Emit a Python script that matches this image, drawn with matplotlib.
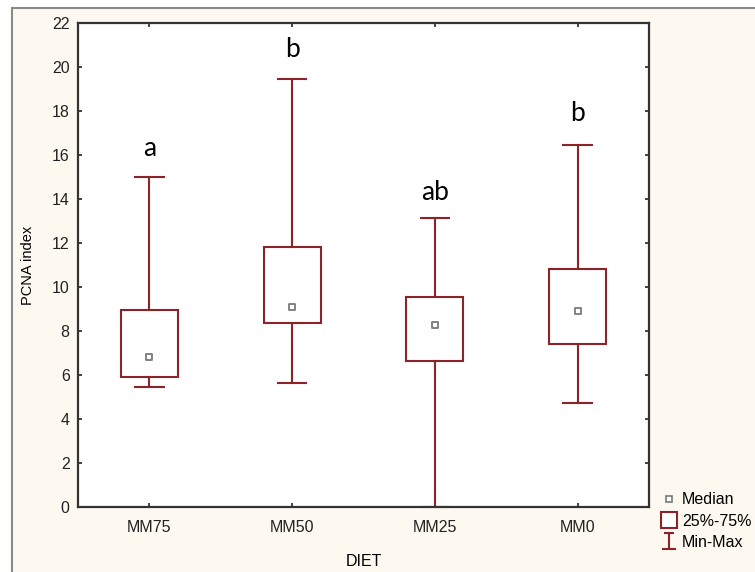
import matplotlib
matplotlib.use("Agg")
import matplotlib.pyplot as plt
from matplotlib.lines import Line2D
from matplotlib.patches import Rectangle
from matplotlib.path import Path

# values
diets = ["MM75", "MM50", "MM25", "MM0"]
mins = [5.45, 5.65, 0.0, 4.73]
q1s = [5.9, 8.36, 6.64, 7.4]
medians = [6.8, 9.1, 8.27, 8.9]
q3s = [8.95, 11.8, 9.55, 10.8]
maxs = [15.0, 19.45, 13.14, 16.45]
letters = ["a", "b", "ab", "b"]
letter_y = [16.3, 20.8, 14.3, 17.9]

RED = "#8b2329"
plt.rcParams["font.family"] = ["Liberation Sans", "DejaVu Sans"]

fig = plt.figure(figsize=(7.55, 5.72), dpi=100)
fig.patch.set_facecolor("white")
# cream panel with grey frame like the screenshot
fig.patches.append(Rectangle((12 / 755, -0.05), 1.2, 1 - 8 / 572 + 0.05,
                             transform=fig.transFigure, facecolor="#fdf9f0",
                             edgecolor="#8a8a8a", linewidth=1.5, zorder=-10))

ax = fig.add_axes([78 / 755, 1 - 507 / 572, (649 - 78) / 755, (507 - 23) / 572])
ax.set_facecolor("white")

stats = []
for i, d in enumerate(diets):
    stats.append(dict(label=d, whislo=mins[i], q1=q1s[i], med=medians[i],
                      q3=q3s[i], whishi=maxs[i]))
pos = list(range(len(diets)))
ax.bxp(stats, positions=pos, widths=0.4, capwidths=0.2, showfliers=False,
       patch_artist=True,
       boxprops=dict(facecolor="white", edgecolor=RED, linewidth=1.5),
       whiskerprops=dict(color=RED, linewidth=1.5),
       capprops=dict(color=RED, linewidth=1.5),
       medianprops=dict(linewidth=0))
ax.scatter(pos, medians, marker="s", s=22, facecolor="white",
           edgecolor="#7a7a7a", linewidth=1.3, zorder=5)

for i, t in enumerate(letters):
    ax.text(pos[i], letter_y[i], t, ha="center", va="center", fontsize=19,
            family=["Lato", "DejaVu Sans"])

ax.set_xlim(-0.5, 3.5)
ax.set_ylim(0, 22)
ax.set_yticks(range(0, 23, 2))
ax.set_xticks(pos)
ax.set_xticklabels(diets)
ax.tick_params(direction="in", length=3, width=1.2, top=True, right=True,
               labelsize=11.5, colors="#222222", pad=6)
ax.tick_params(axis="x", pad=9)
for s in ax.spines.values():
    s.set_linewidth(1.6)
    s.set_color("#333333")

ax.set_ylabel("PCNA index", fontsize=10.5, labelpad=12)
ax.set_xlabel("DIET", fontsize=11.5, labelpad=14)

# legend
whisk = Path([(0, -1), (0, 1), (-0.8, -1), (0.8, -1), (-0.6, 1), (0.6, 1)],
             [Path.MOVETO, Path.LINETO, Path.MOVETO, Path.LINETO,
              Path.MOVETO, Path.LINETO])
handles = [
    Line2D([], [], linestyle="none", marker="s", markersize=5,
           markerfacecolor="white", markeredgecolor="#7a7a7a", markeredgewidth=1.2),
    Line2D([], [], linestyle="none", marker="s", markersize=11,
           markerfacecolor="white", markeredgecolor=RED, markeredgewidth=1.5),
    Line2D([], [], linestyle="none", marker=whisk, markersize=12,
           markeredgecolor=RED, markeredgewidth=1.5),
]
fig.legend(handles, ["Median", "25%-75%", "Min-Max"], loc="upper left",
           bbox_to_anchor=(650 / 755, 1 - 481 / 572), frameon=False,
           fontsize=11.5, handlelength=1.0, handletextpad=0.3,
           labelspacing=0.4, borderpad=0.2)

fig.savefig("out.png", dpi=100, facecolor=fig.get_facecolor())
